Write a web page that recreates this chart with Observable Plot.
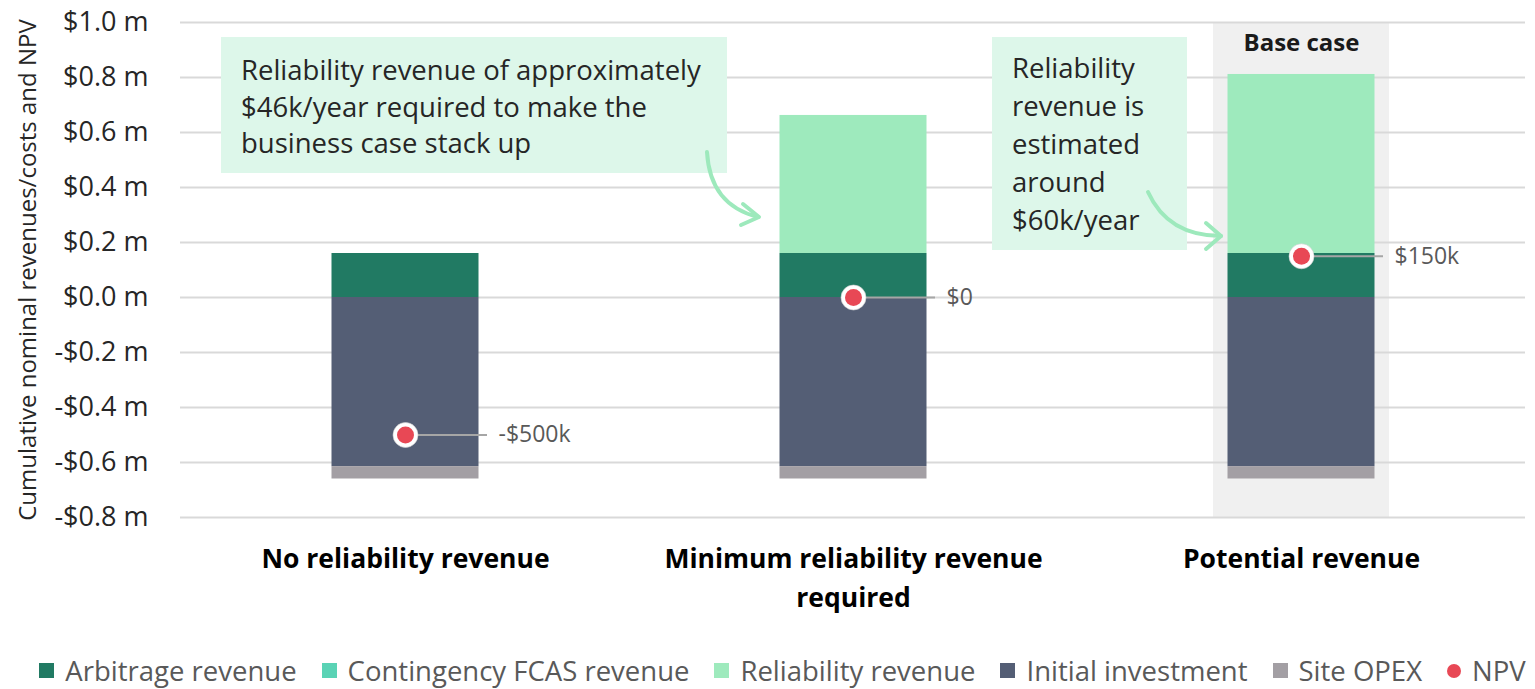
<!DOCTYPE html>
<html><head><meta charset="utf-8">
<script src="https://cdn.jsdelivr.net/npm/d3@7"></script>
<script src="https://cdn.jsdelivr.net/npm/@observablehq/plot@0.6"></script>
<style>
body{margin:0;background:#fff;font-family:"Open Sans",sans-serif;}
#wrap{position:relative;width:1535px;height:689px;overflow:hidden;}
#chart{position:absolute;left:0;top:0;}
.note{position:absolute;background:#ddf7ea;color:#262626;font-family:"Open Sans",sans-serif;font-size:27.5px;box-sizing:border-box;white-space:nowrap;}
#note1{left:221px;top:37px;width:506px;height:136px;padding:15px 0 0 20px;line-height:36.5px;}
#note2{left:992px;top:37px;width:195px;height:213px;padding:12px 0 0 20px;line-height:38px;}
#arrows{position:absolute;left:0;top:0;pointer-events:none;}
#legend{position:absolute;left:0;top:652px;width:1535px;box-sizing:border-box;padding-left:30px;display:flex;justify-content:center;align-items:center;font-size:27.5px;color:#595959;white-space:nowrap;}
.item{display:flex;align-items:center;margin:0 12.5px;}
.sw{width:15px;height:15px;margin-right:11px;}
.sw.dot{border-radius:50%;width:14px;height:14px;}
</style></head><body>
<div id="wrap">
<div id="chart"></div>
<div class="note" id="note1">Reliability revenue of approximately<br>$46k/year required to make the<br>business case stack up</div>
<div class="note" id="note2">Reliability<br>revenue is<br>estimated<br>around<br>$60k/year</div>
<svg id="arrows" width="1535" height="689">
<g fill="none" stroke="#9de9bc" stroke-width="4" stroke-linecap="round" stroke-linejoin="round">
<path d="M707,152 Q710,205 758,217"/>
<path d="M743,204 L759,217 L741,225"/>
<path d="M1148,192 Q1168,236 1221,236"/>
<path d="M1206,223 L1221,236 L1206,249"/>
</g>
</svg>
<div id="legend"></div>
</div>
<script>
const categories = ["No reliability revenue", "Minimum reliability revenue required", "Potential revenue"];
const categoryLabels = ["No reliability revenue", "Minimum reliability revenue\nrequired", "Potential revenue"];
const baseCase = "Potential revenue";
const seriesNames = ["Arbitrage revenue", "Contingency FCAS revenue", "Reliability revenue", "Initial investment", "Site OPEX"];
const seriesColors = ["#217a63", "#5ad3b5", "#9eeabd", "#545e75", "#a39fa4"];
const arbitrage = [0.16, 0.16, 0.16];
const contingencyFcas = [0, 0, 0];
const reliability = [0, 0.502, 0.651];
const initialInvestment = [-0.615, -0.615, -0.615];
const siteOpex = [-0.045, -0.045, -0.045];
const npv = [-0.5, 0, 0.15];
const npvLabels = ["-$500k", "$0", "$150k"];
const npvColor = "#e84855";
const yDomain = [-0.8, 1.0];
const yTicks = [-0.8, -0.6, -0.4, -0.2, 0, 0.2, 0.4, 0.6, 0.8, 1.0];

const seriesValues = [arbitrage, contingencyFcas, reliability, initialInvestment, siteOpex];
const stackData = [];
categories.forEach((c, i) => seriesNames.forEach((s, j) => stackData.push({category: c, series: s, value: seriesValues[j][i]})));
const npvData = categories.map((c, i) => ({category: c, npv: npv[i], label: npvLabels[i]}));
const fmt = d => (d < 0 ? "-" : "") + "$" + Math.abs(d).toFixed(1) + " m";

const chart = Plot.plot({
  width: 1535, height: 640,
  marginTop: 22, marginBottom: 123, marginLeft: 180, marginRight: 10,
  style: {fontFamily: "Open Sans, sans-serif", background: "transparent"},
  x: {domain: categories, padding: 0, axis: null},
  y: {domain: yDomain, axis: null},
  color: {domain: seriesNames, range: seriesColors},
  marks: [
    Plot.barY([baseCase], {x: d => d, y1: yDomain[0], y2: yDomain[1], fill: "#f0f0f0", insetLeft: 136, insetRight: 136}),
    Plot.gridY(yTicks, {stroke: "#d9d9d9", strokeOpacity: 1, strokeWidth: 2}),
    Plot.axisY(yTicks, {tickSize: 0, tickPadding: 32, tickFormat: fmt, fontSize: 27, fontWeight: "normal", fill: "#262626"}),
    Plot.text(["Cumulative nominal revenues/costs and NPV"], {frameAnchor: "left", rotate: -90, dx: -152, textAnchor: "middle", lineAnchor: "middle", fontSize: 24, fill: "#262626"}),
    Plot.barY(stackData, Plot.stackY({x: "category", y: "value", fill: "series", insetLeft: 150.5, insetRight: 150.5})),
    Plot.text([baseCase], {x: d => d, frameAnchor: "top", dy: 11, text: () => "Base case", fontSize: 24, fontWeight: "bold", fill: "#1a1a1a"}),
    Plot.tickY(npvData, {x: "category", y: "npv", stroke: "#a6a6a6", strokeWidth: 2, insetLeft: 224, insetRight: 142}),
    Plot.dot(npvData, {x: "category", y: "npv", r: 12.5, fill: "white", stroke: "#d0d0d0", strokeWidth: 0.6}),
    Plot.dot(npvData, {x: "category", y: "npv", r: 8.5, fill: npvColor}),
    Plot.text(npvData, {x: "category", y: "npv", text: "label", dx: 93, textAnchor: "start", fontSize: 23, fill: "#595959"}),
    Plot.text(categories, {x: d => d, text: (d, i) => categoryLabels[i], frameAnchor: "bottom", lineAnchor: "top", dy: 23, lineHeight: 1.47, fontSize: 26.5, fontWeight: "bold", fill: "#000"})
  ]
});
document.getElementById("chart").appendChild(chart);

const legend = d3.select("#legend");
seriesNames.forEach((s, i) => {
  const it = legend.append("div").attr("class", "item");
  it.append("div").attr("class", "sw").style("background", seriesColors[i]);
  it.append("span").text(s);
});
const npvItem = legend.append("div").attr("class", "item");
npvItem.append("div").attr("class", "sw dot").style("background", npvColor);
npvItem.append("span").text("NPV");
</script>
</body></html>
